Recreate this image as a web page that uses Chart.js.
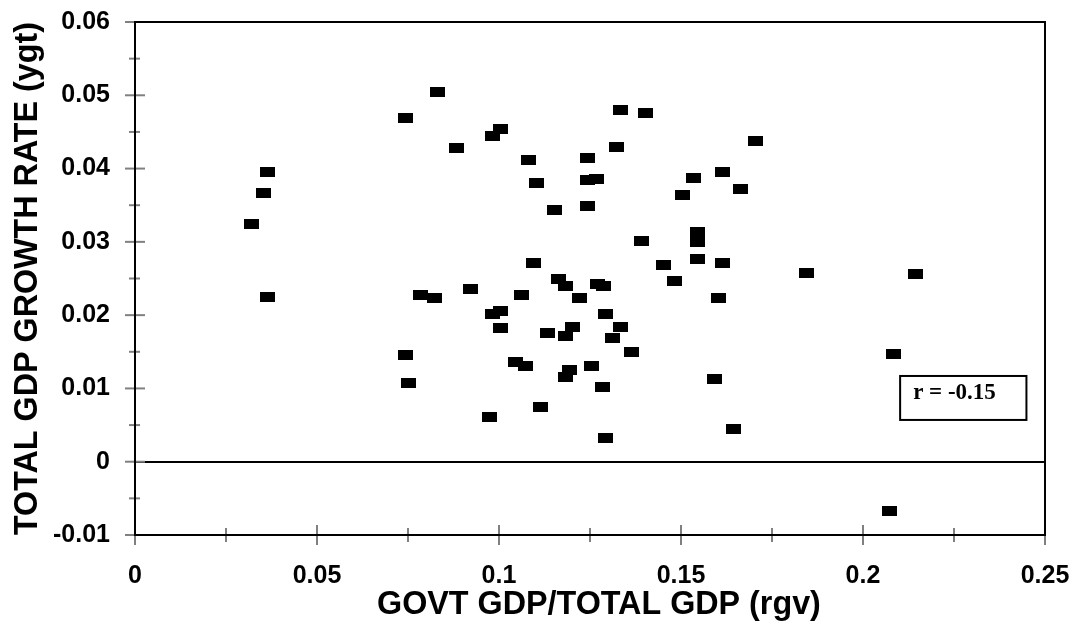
<!DOCTYPE html>
<html>
<head>
<meta charset="utf-8">
<script src="https://cdn.jsdelivr.net/npm/chart.js@4"></script>
<style>
  body { margin: 0; background: #fff; }
  #wrap { width: 1073px; height: 629px; position: relative; }
</style>
</head>
<body>
<div id="wrap"><canvas id="my_chart"></canvas></div>
<script>
// govt gdp / total gdp (x) against total gdp growth rate (y)
var rgv = [0.0832, 0.0743, 0.0883, 0.0363, 0.0352, 0.0321, 0.0363, 0.0783, 0.0822, 0.0743, 0.0752,
  0.1333, 0.1003, 0.0982, 0.1323, 0.1082, 0.1244, 0.1102, 0.1244, 0.1267, 0.1153, 0.1244,
  0.1094, 0.1163, 0.1183, 0.1271, 0.1286, 0.1222, 0.0922, 0.1061, 0.1003, 0.0982, 0.1003, 0.1292,
  0.1132, 0.1202, 0.1184, 0.1334, 0.1313, 0.1363, 0.1044, 0.1072, 0.1193, 0.1183, 0.1254, 0.1283,
  0.1113, 0.0973, 0.1292,
  0.1403, 0.1704, 0.1533, 0.1613, 0.1664, 0.1503, 0.1544, 0.1544, 0.1391, 0.1544, 0.1453, 0.1613,
  0.1482, 0.1845,
  0.1602, 0.1592, 0.1643, 0.2143, 0.2085, 0.2074]
var ygt = [0.0505, 0.0469, 0.0428, 0.0395, 0.0367, 0.0325, 0.0225, 0.0227, 0.0223, 0.0146, 0.0108,
  0.0480, 0.0454, 0.0445, 0.0430, 0.0412, 0.0414, 0.0380, 0.0384, 0.0386, 0.0343, 0.0349,
  0.0271, 0.0250, 0.0240, 0.0242, 0.0240, 0.0224, 0.0235, 0.0227, 0.0206, 0.0202, 0.0182, 0.0202,
  0.0176, 0.0184, 0.0171, 0.0184, 0.0169, 0.0150, 0.0136, 0.0130, 0.0125, 0.0115, 0.0130, 0.0102,
  0.0074, 0.0061, 0.0033,
  0.0476, 0.0438, 0.0387, 0.0396, 0.0372, 0.0364, 0.0313, 0.0300, 0.0301, 0.0277, 0.0268, 0.0271,
  0.0246, 0.0258,
  0.0224, 0.0113, 0.0045, 0.0256, 0.0147, -0.0067]

var xTickLabels = ['0', '0.05', '0.1', '0.15', '0.2', '0.25']
var yTickLabels = ['-0.01', '0', '0.01', '0.02', '0.03', '0.04', '0.05', '0.06']
var corrText = 'r = -0.15'
// where the r box sits, in data units
var corrBox = {x0: 0.2102, x1: 0.2449, y0: 0.0117, y1: 0.0057}

// flat black rectangle marker
var marker = document.createElement('canvas')
marker.width = 15
marker.height = 10
var mctx = marker.getContext('2d')
mctx.fillStyle = '#000'
mctx.fillRect(0, 0, 15, 10)

var points = rgv.map((x, i) => ({x: x, y: ygt[i]}))

// keep tick labels from pushing the plot area around
function noPad(scale) {
  scale.paddingLeft = 0
  scale.paddingRight = 0
  scale.paddingTop = 0
  scale.paddingBottom = 0
}

// frame, crossing tick marks and the r box
var decorations = {
  id: 'decorations',
  afterDraw(chart) {
    var ctx = chart.ctx
    var area = chart.chartArea
    var xs = chart.scales.x
    var ys = chart.scales.y
    ctx.save()

    ctx.strokeStyle = '#808080'
    ctx.lineWidth = 2
    ys.ticks.forEach((t, i) => {
      var py = ys.getPixelForValue(t.value)
      var a = i % 2 == 0 ? 10 : 6
      var b = i % 2 == 0 ? 10 : 5
      ctx.beginPath()
      ctx.moveTo(area.left - a, py)
      ctx.lineTo(area.left + b, py)
      ctx.stroke()
    })
    xs.ticks.forEach((t, i) => {
      var px = xs.getPixelForValue(t.value)
      var a = i % 2 == 0 ? 10 : 7
      ctx.beginPath()
      ctx.moveTo(px, area.bottom - a)
      ctx.lineTo(px, area.bottom + a)
      ctx.stroke()
    })

    ctx.strokeStyle = '#000'
    ctx.lineWidth = 2
    ctx.strokeRect(area.left, area.top, area.right - area.left, area.bottom - area.top)

    var bx0 = xs.getPixelForValue(corrBox.x0)
    var bx1 = xs.getPixelForValue(corrBox.x1)
    var by0 = ys.getPixelForValue(corrBox.y0)
    var by1 = ys.getPixelForValue(corrBox.y1)
    ctx.fillStyle = '#fff'
    ctx.fillRect(bx0, by0, bx1 - bx0, by1 - by0)
    ctx.strokeRect(bx0, by0, bx1 - bx0, by1 - by0)
    ctx.fillStyle = '#000'
    ctx.font = 'bold 23px "Liberation Serif"'
    ctx.textBaseline = 'alphabetic'
    ctx.fillText(corrText, bx0 + 13, by0 + 23)
    ctx.restore()
  }
}

Chart.defaults.font.family = '"Liberation Sans", Arial, sans-serif'
Chart.defaults.color = '#000'

var ctx = document.getElementById('my_chart')
var my_chart = new Chart(ctx, {
  type: 'scatter',
  data: {
    datasets: [{
      label: 'ygt',
      data: points,
      pointStyle: marker,
      pointRadius: 7,
      backgroundColor: '#000',
      borderColor: '#000'
    }]
  },
  options: {
    responsive: true,
    maintainAspectRatio: false,
    animation: false,
    events: [],
    layout: {padding: {top: 22, right: 28, left: 0, bottom: 0}},
    plugins: {legend: {display: false}, tooltip: {enabled: false}},
    scales: {
      x: {
        type: 'linear',
        min: 0,
        max: 0.25,
        afterFit: (scale) => { scale.height = 94; noPad(scale) },
        ticks: {
          stepSize: 0.025,
          autoSkip: false,
          maxRotation: 0,
          padding: 26,
          font: {size: 25, weight: 'bold'},
          callback: (v, i) => i % 2 == 0 ? xTickLabels[i / 2] : ''
        },
        grid: {display: false, drawTicks: false},
        border: {display: false},
        title: {
          display: true,
          text: '  GOVT GDP/TOTAL GDP (rgv)',
          font: {size: 32.3, weight: 'bold'},
          padding: {top: 0, bottom: 5}
        }
      },
      y: {
        type: 'linear',
        min: -0.01,
        max: 0.06,
        afterFit: (scale) => { scale.width = 135; noPad(scale) },
        ticks: {
          stepSize: 0.005,
          autoSkip: false,
          padding: 25,
          font: {size: 25, weight: 'bold'},
          callback: (v, i) => i % 2 == 0 ? yTickLabels[i / 2] : ''
        },
        grid: {
          drawTicks: false,
          lineWidth: 2,
          color: (c) => (c.tick && Math.abs(c.tick.value) < 1e-9) ? '#000' : 'rgba(0,0,0,0)'
        },
        border: {display: false},
        title: {
          display: true,
          text: 'TOTAL GDP GROWTH RATE (ygt)',
          font: {size: 32.3, weight: 'bold'},
          padding: {top: 9, bottom: 0}
        }
      }
    }
  },
  plugins: [decorations]
})
</script>
</body>
</html>
